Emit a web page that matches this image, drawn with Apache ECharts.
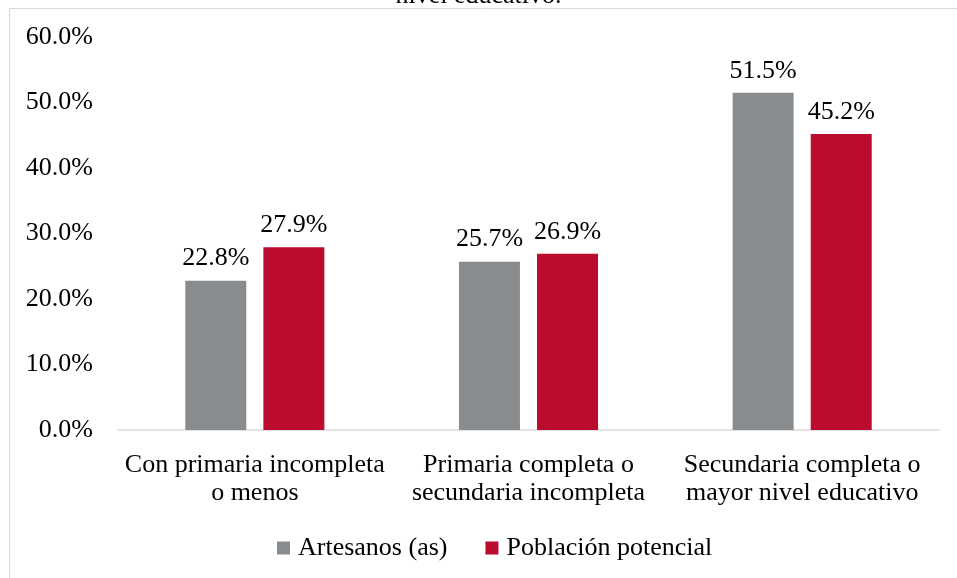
<!DOCTYPE html>
<html>
<head>
<meta charset="utf-8">
<script src="https://cdn.jsdelivr.net/npm/echarts@6/dist/echarts.min.js"></script>
<style>
  html, body { margin: 0; padding: 0; background: #fff; }
  #main { width: 957px; height: 578px; }
</style>
</head>
<body>
<div id="main"></div>
<script>
var categories = ['Con primaria incompleta\no menos', 'Primaria completa o\nsecundaria incompleta', 'Secundaria completa o\nmayor nivel educativo'];
var artesanos = [22.8, 25.7, 51.5];
var poblacion = [27.9, 26.9, 45.2];
var yTicks = [0, 10, 20, 30, 40, 50, 60];

var font = '"Liberation Serif", "Times New Roman", serif';
var chart = echarts.init(document.getElementById('main'));

// etiqueta de valor encima de cada barra
var label = {
    show: true,
    position: 'top',
    distance: 9,
    fontFamily: font,
    fontSize: 26,
    color: '#000',
    formatter: function (p) { return p.value.toFixed(1) + '%'; }
};

var option = {
    animation: false,
    backgroundColor: '#fff',
    title: {
        text: 'nivel educativo.',
        left: 'center',
        top: -22,
        textStyle: { fontFamily: font, fontSize: 26, fontWeight: 'normal', color: '#000' }
    },
    graphic: [{
        type: 'polyline',
        shape: { points: [[9.5, 600], [9.5, 8.5], [970, 8.5]] },
        style: { stroke: '#d9d9d9', lineWidth: 1, fill: null }
    }],
    legend: {
        bottom: 12,
        left: 272,
        itemWidth: 13,
        itemHeight: 13,
        itemGap: 38,
        icon: 'rect',
        textStyle: { fontFamily: font, fontSize: 26, color: '#000', padding: [0, 0, 0, 3] },
        data: ['Artesanos (as)', 'Población potencial']
    },
    grid: { left: 118, right: 18, top: 37, bottom: 148 },
    xAxis: {
        type: 'category',
        data: categories,
        axisLine: { lineStyle: { color: '#d9d9d9', width: 1.5 } },
        axisTick: { show: false },
        axisLabel: { interval: 0, fontFamily: font, fontSize: 26, color: '#000', margin: 21, lineHeight: 28 }
    },
    yAxis: {
        type: 'value',
        min: yTicks[0],
        max: yTicks[yTicks.length - 1],
        interval: 10,
        splitLine: { show: false },
        axisLine: { show: false },
        axisTick: { show: false },
        axisLabel: {
            fontFamily: font, fontSize: 26, color: '#000', margin: 25,
            formatter: function (v) { return v.toFixed(1) + '%'; }
        }
    },
    series: [
        {
            name: 'Artesanos (as)',
            type: 'bar',
            data: artesanos,
            barWidth: 61,
            barGap: '28%',
            itemStyle: { color: '#898C8F' },
            label: label
        },
        {
            name: 'Población potencial',
            type: 'bar',
            data: poblacion,
            barWidth: 61,
            itemStyle: { color: '#BA0C2F' },
            label: label
        }
    ]
};

chart.setOption(option);
</script>
</body>
</html>
